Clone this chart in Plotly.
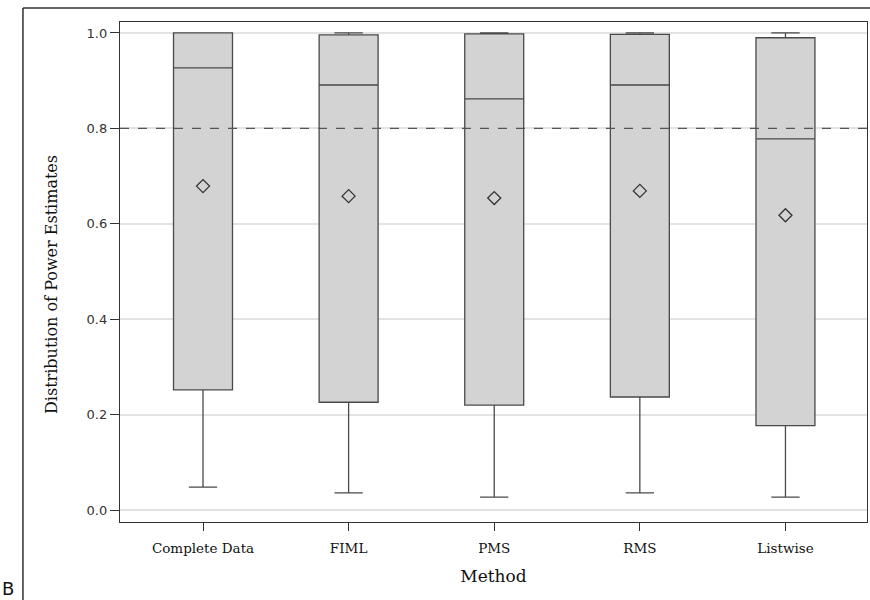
import plotly.graph_objects as go

methods = ["Complete Data", "FIML", "PMS", "RMS", "Listwise"]
lower_whisker = [0.048, 0.036, 0.027, 0.036, 0.027]
q1 = [0.252, 0.226, 0.220, 0.237, 0.177]
median = [0.927, 0.891, 0.862, 0.891, 0.778]
q3 = [1.0, 0.996, 0.998, 0.997, 0.990]
upper_whisker = [1.0, 1.0, 1.0, 1.0, 1.0]
means = [0.679, 0.658, 0.654, 0.669, 0.618]
reference = 0.8
y_ticks = [0.0, 0.2, 0.4, 0.6, 0.8, 1.0]

serif = "DejaVu Serif, Liberation Serif, serif"
sans = "DejaVu Sans, Liberation Sans, sans-serif"

fig = go.Figure()
fig.add_trace(go.Box(
    x=methods, q1=q1, median=median, q3=q3,
    lowerfence=lower_whisker, upperfence=upper_whisker,
    fillcolor="#d3d3d3", line=dict(color="#4a4a4a", width=1.3),
    whiskerwidth=0.48, width=0.405, boxpoints=False, showlegend=False,
    hoverinfo="skip",
))
fig.add_trace(go.Scatter(
    x=methods, y=means, mode="markers",
    marker=dict(symbol="diamond-open", size=10, color="#333333", line=dict(width=1.3, color="#333333")),
    showlegend=False, hoverinfo="skip",
))
fig.add_hline(y=reference, line=dict(color="#555555", width=1.2, dash="dash"))

# outer panel frame (top and left lines)
fig.add_shape(type="line", xref="paper", yref="paper", x0=-0.1299, x1=1.01, y0=1.028, y1=1.028,
              line=dict(color="#333333", width=1.3))
fig.add_shape(type="line", xref="paper", yref="paper", x0=-0.1299, x1=-0.1299, y0=1.028, y1=-0.2,
              line=dict(color="#111111", width=1.3))
fig.add_annotation(text="B", xref="paper", yref="paper", x=-0.1605, y=-0.158, xanchor="left", yanchor="bottom",
                   showarrow=False, font=dict(family=sans, size=18, color="#111111"))
# y-axis title (placed slightly below plot centre as in the reference)
fig.add_annotation(text="Distribution of Power Estimates", xref="paper", yref="paper",
                   x=-0.0924, y=0.476, xanchor="center", yanchor="middle", textangle=-90,
                   showarrow=False, font=dict(family=serif, size=16, color="#111111"))

fig.update_layout(
    width=870, height=600,
    margin=dict(l=120, r=3, t=22, b=78),
    paper_bgcolor="white", plot_bgcolor="white",
    xaxis=dict(
        range=[-0.57, 4.56], showline=True, linecolor="#333333", linewidth=1.3, mirror=True,
        ticks="outside", ticklen=8, tickcolor="#333333", showgrid=False,
        ticklabelstandoff=6,
        tickfont=dict(family=serif, size=13.5, color="#111111"),
        title=dict(text="Method", font=dict(family=serif, size=17, color="#111111"), standoff=14),
    ),
    yaxis=dict(
        range=[-0.025, 1.023], tickvals=y_ticks, tickformat=".1f",
        showline=True, linecolor="#333333", linewidth=1.3, mirror=True,
        ticks="outside", ticklen=9, tickcolor="#333333",
        showgrid=True, gridcolor="#e3e3e3", gridwidth=1.5, zeroline=False,
        tickfont=dict(family=sans, size=13, color="#333333"),
    ),
)

fig.write_html("out.html")
